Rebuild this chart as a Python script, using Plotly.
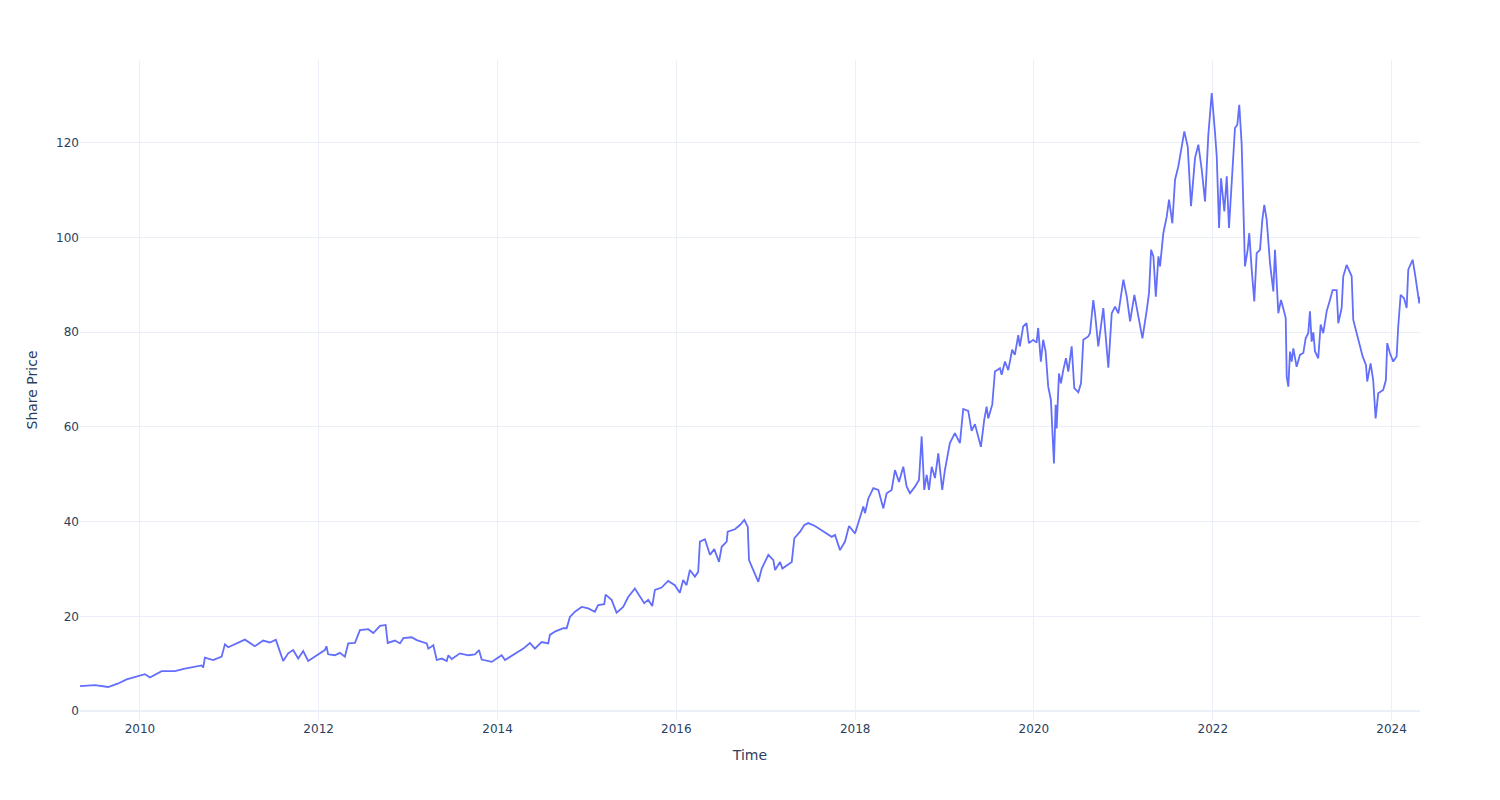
import pandas as pd
import plotly.graph_objects as go

year_frac = [
    2009.329, 2009.497, 2009.645, 2009.757, 2009.851, 2010.000, 2010.056, 2010.112, 2010.243, 2010.391,
    2010.503, 2010.690, 2010.708, 2010.727, 2010.820, 2010.914, 2010.951, 2010.988, 2011.119, 2011.175,
    2011.286, 2011.379, 2011.454, 2011.521, 2011.555, 2011.603, 2011.659, 2011.715, 2011.771, 2011.827,
    2011.883, 2011.958, 2012.069, 2012.088, 2012.106, 2012.181, 2012.237, 2012.293, 2012.330, 2012.405,
    2012.461, 2012.554, 2012.610, 2012.685, 2012.748, 2012.771, 2012.852, 2012.908, 2012.945, 2013.039,
    2013.095, 2013.207, 2013.225, 2013.281, 2013.319, 2013.375, 2013.431, 2013.449, 2013.487, 2013.579,
    2013.672, 2013.747, 2013.792, 2013.822, 2013.934, 2013.990, 2014.046, 2014.083, 2014.195, 2014.288,
    2014.362, 2014.418, 2014.493, 2014.567, 2014.586, 2014.642, 2014.735, 2014.773, 2014.810, 2014.866,
    2014.941, 2015.015, 2015.089, 2015.126, 2015.194, 2015.209, 2015.276, 2015.332, 2015.406, 2015.462,
    2015.537, 2015.593, 2015.641, 2015.686, 2015.731, 2015.761, 2015.836, 2015.909, 2015.984, 2016.040,
    2016.077, 2016.115, 2016.152, 2016.208, 2016.245, 2016.264, 2016.320, 2016.376, 2016.424, 2016.477,
    2016.507, 2016.563, 2016.574, 2016.655, 2016.711, 2016.760, 2016.798, 2016.812, 2016.860, 2016.916,
    2016.954, 2017.028, 2017.084, 2017.103, 2017.159, 2017.185, 2017.290, 2017.319, 2017.383, 2017.431,
    2017.475, 2017.550, 2017.662, 2017.737, 2017.774, 2017.830, 2017.886, 2017.931, 2017.998, 2018.054,
    2018.091, 2018.110, 2018.147, 2018.203, 2018.259, 2018.315, 2018.352, 2018.408, 2018.445, 2018.490,
    2018.538, 2018.576, 2018.613, 2018.669, 2018.714, 2018.744, 2018.773, 2018.800, 2018.826, 2018.856,
    2018.893, 2018.930, 2018.974, 2019.004, 2019.060, 2019.116, 2019.172, 2019.209, 2019.265, 2019.303,
    2019.340, 2019.407, 2019.444, 2019.471, 2019.489, 2019.534, 2019.564, 2019.620, 2019.639, 2019.676,
    2019.713, 2019.757, 2019.787, 2019.825, 2019.843, 2019.880, 2019.918, 2019.944, 2019.992, 2020.030,
    2020.048, 2020.078, 2020.104, 2020.131, 2020.160, 2020.190, 2020.205, 2020.224, 2020.243, 2020.254,
    2020.280, 2020.302, 2020.328, 2020.358, 2020.384, 2020.422, 2020.451, 2020.496, 2020.526, 2020.552,
    2020.607, 2020.626, 2020.663, 2020.682, 2020.719, 2020.775, 2020.831, 2020.869, 2020.906, 2020.943,
    2020.999, 2021.037, 2021.074, 2021.122, 2021.167, 2021.212, 2021.261, 2021.286, 2021.309, 2021.335,
    2021.362, 2021.391, 2021.409, 2021.446, 2021.484, 2021.510, 2021.547, 2021.577, 2021.614, 2021.644,
    2021.681, 2021.719, 2021.756, 2021.801, 2021.838, 2021.876, 2021.913, 2021.950, 2021.988, 2022.025,
    2022.044, 2022.070, 2022.092, 2022.129, 2022.156, 2022.181, 2022.218, 2022.248, 2022.274, 2022.296,
    2022.323, 2022.341, 2022.360, 2022.390, 2022.408, 2022.435, 2022.464, 2022.491, 2022.528, 2022.554,
    2022.576, 2022.603, 2022.640, 2022.677, 2022.696, 2022.733, 2022.763, 2022.789, 2022.816, 2022.827,
    2022.845, 2022.864, 2022.883, 2022.901, 2022.938, 2022.975, 2023.013, 2023.039, 2023.068, 2023.087,
    2023.106, 2023.125, 2023.143, 2023.180, 2023.207, 2023.236, 2023.274, 2023.311, 2023.341, 2023.386,
    2023.404, 2023.442, 2023.460, 2023.498, 2023.527, 2023.554, 2023.572, 2023.610, 2023.647, 2023.677,
    2023.714, 2023.728, 2023.766, 2023.795, 2023.822, 2023.851, 2023.907, 2023.937, 2023.952, 2023.982,
    2024.019, 2024.057, 2024.075, 2024.102, 2024.139, 2024.169, 2024.187, 2024.236, 2024.262, 2024.299,
    2024.310, 2024.318,
]

share_price = [
    5.3, 5.5, 5.1, 5.85, 6.7, 7.5, 7.8, 7.1, 8.45, 8.45,
    9.0, 9.65, 9.2, 11.3, 10.8, 11.5, 14.1, 13.5, 14.6, 15.1,
    13.7, 14.9, 14.5, 15.1, 13.2, 10.6, 12.2, 12.9, 11.1, 12.7,
    10.6, 11.5, 12.9, 13.7, 12.0, 11.8, 12.3, 11.5, 14.3, 14.4,
    17.1, 17.3, 16.5, 18.0, 18.2, 14.4, 14.9, 14.3, 15.4, 15.6,
    15.0, 14.3, 13.2, 13.9, 10.8, 11.1, 10.6, 11.8, 11.0, 12.2,
    11.8, 12.0, 12.9, 10.9, 10.4, 11.1, 11.8, 10.8, 12.2, 13.2,
    14.4, 13.2, 14.6, 14.3, 16.1, 16.8, 17.5, 17.5, 19.9, 21.0,
    22.0, 21.7, 21.0, 22.4, 22.6, 24.6, 23.5, 20.8, 22.0, 24.1,
    25.9, 24.1, 22.8, 23.5, 22.2, 25.6, 26.1, 27.5, 26.6, 25.0,
    27.7, 26.6, 29.8, 28.4, 29.4, 35.8, 36.3, 33.0, 34.2, 31.5,
    34.7, 35.8, 37.9, 38.4, 39.3, 40.4, 38.9, 31.9, 29.8, 27.3,
    30.1, 33.0, 31.9, 29.8, 31.5, 30.1, 31.5, 36.5, 37.9, 39.3,
    39.7, 39.1, 37.7, 36.8, 37.2, 34.0, 35.8, 39.1, 37.5, 40.7,
    43.2, 41.8, 44.9, 47.1, 46.7, 42.8, 46.0, 46.7, 50.9, 48.4,
    51.6, 47.4, 46.0, 47.4, 48.8, 58.0, 46.7, 49.9, 46.7, 51.6,
    49.2, 54.4, 46.7, 50.9, 56.6, 58.7, 56.6, 63.8, 63.4, 59.2,
    60.6, 55.8, 61.5, 64.3, 61.8, 64.7, 71.7, 72.4, 71.0, 73.8,
    72.0, 76.3, 75.2, 79.4, 77.0, 81.2, 81.9, 77.7, 78.4, 77.8,
    80.9, 73.8, 78.4, 75.9, 68.5, 65.7, 58.0, 52.3, 64.7, 59.7,
    71.3, 69.2, 72.0, 74.5, 71.7, 77.0, 68.2, 67.3, 69.2, 78.4,
    79.1, 79.8, 86.8, 84.0, 77.0, 85.1, 72.5, 84.0, 85.4, 84.0,
    91.1, 87.5, 82.3, 87.9, 83.3, 78.7, 84.7, 88.3, 97.4, 96.0,
    87.5, 96.0, 93.9, 100.9, 104.4, 108.0, 103.0, 112.2, 115.0, 118.5,
    122.4, 119.2, 106.6, 116.8, 119.6, 114.3, 107.6, 121.7, 130.5, 122.0,
    117.1, 102.0, 112.5, 105.5, 112.9, 102.0, 112.9, 123.1, 123.8, 128.0,
    119.6, 105.1, 93.9, 97.4, 100.9, 93.2, 86.5, 96.7, 97.4, 103.7,
    106.9, 103.7, 94.6, 88.6, 97.4, 84.0, 86.8, 85.0, 83.0, 70.6,
    68.5, 75.9, 73.8, 76.6, 72.7, 75.2, 75.6, 78.7, 79.8, 84.4,
    78.0, 80.0, 76.0, 74.5, 81.6, 79.8, 84.4, 86.8, 88.9, 88.9,
    81.9, 85.1, 91.8, 94.2, 92.8, 91.8, 82.6, 79.8, 76.6, 74.9,
    73.1, 69.6, 73.4, 69.9, 61.8, 67.1, 67.8, 69.9, 77.7, 75.6,
    73.8, 74.9, 81.2, 87.9, 87.2, 85.1, 93.2, 95.3, 92.3, 87.9,
    86.1, 87.5,
]


def frac_to_date(y):
    yr = int(y)
    start = pd.Timestamp(year=yr, month=1, day=1)
    end = pd.Timestamp(year=yr + 1, month=1, day=1)
    return start + (end - start) * (y - yr)


dates = [frac_to_date(y) for y in year_frac]

fig = go.Figure(
    go.Scatter(
        x=dates,
        y=share_price,
        mode="lines",
        line=dict(color="#636efa", width=1.8),
        showlegend=False,
    )
)

fig.update_layout(
    template="plotly_white",
    width=1500,
    height=800,
    font=dict(family="DejaVu Sans, Verdana, sans-serif"),
    margin=dict(l=80, r=80, t=60, b=80),
    xaxis=dict(title=dict(text="Time")),
    yaxis=dict(title=dict(text="Share Price")),
)

fig.write_html("out.html")
